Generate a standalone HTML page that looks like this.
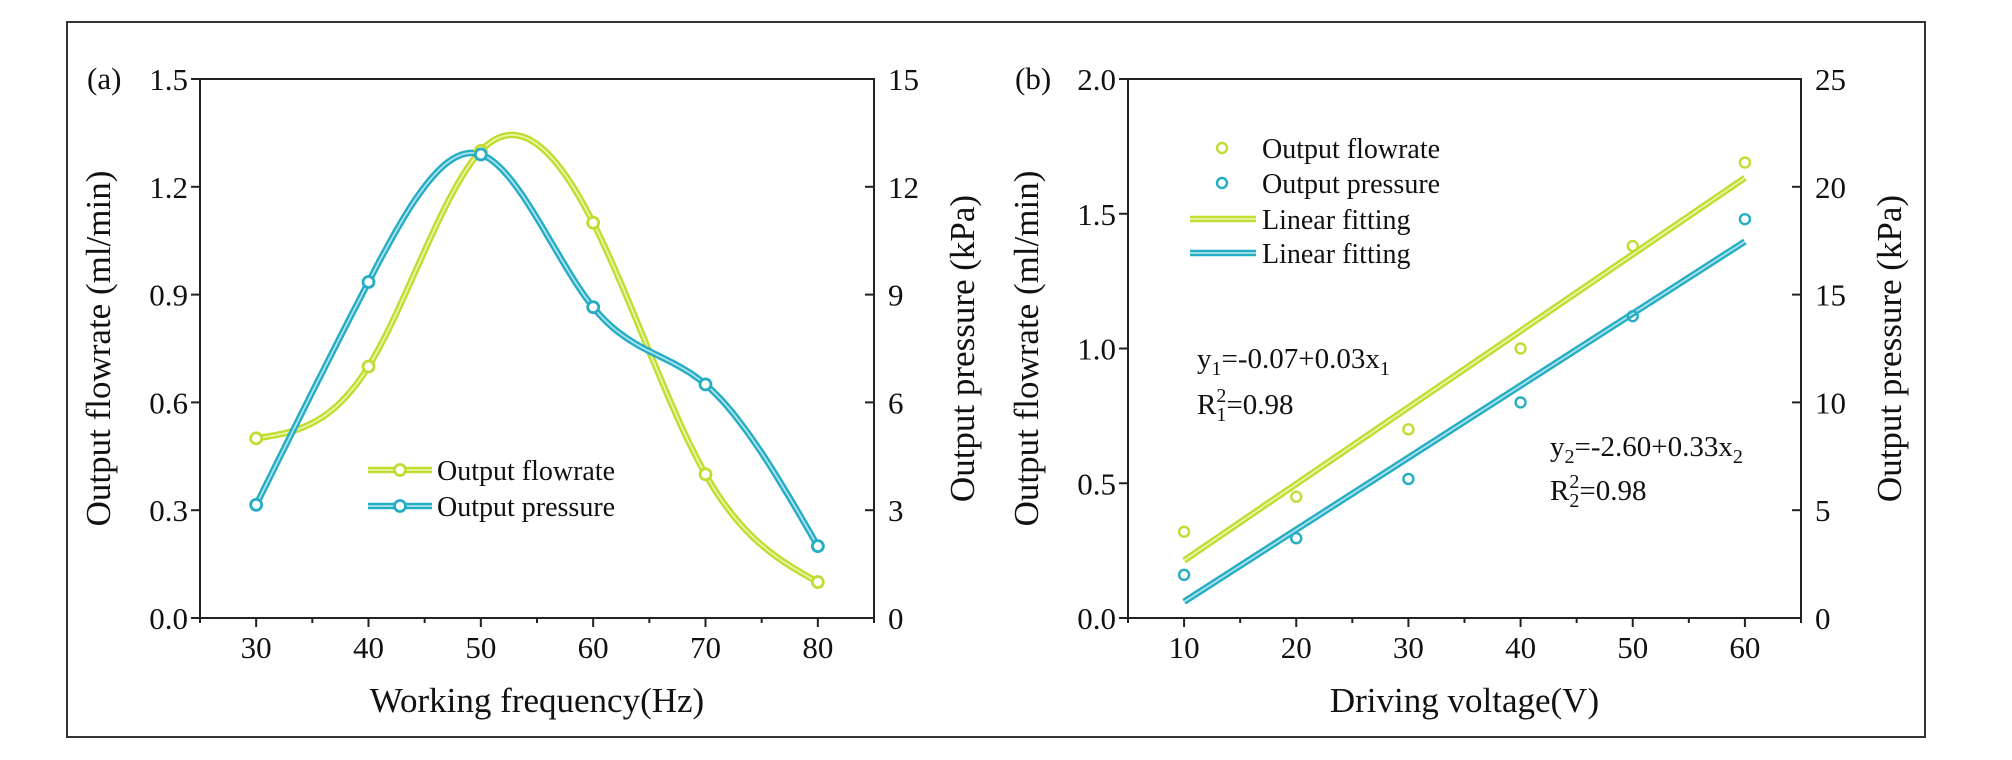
<!DOCTYPE html>
<html><head><meta charset="utf-8">
<style>
html,body{margin:0;padding:0;background:#fff;}
svg{display:block;font-family:"Liberation Serif","Times New Roman",serif;}
</style></head>
<body>
<svg id="chart" width="2012" height="760" viewBox="0 0 2012 760">
<rect x="67" y="22" width="1858" height="715" fill="none" stroke="#333" stroke-width="2"/>
<g id="pa"></g>
<g id="pb"></g>
</svg>
<script>
// Panel (a) data
const freqCategories = [30, 40, 50, 60, 70, 80];
const freqFlowrate = [0.5, 0.7, 1.3, 1.1, 0.4, 0.1];
const freqPressure = [3.15, 9.35, 12.9, 8.65, 6.5, 2.0];
const aXTicks = [30, 40, 50, 60, 70, 80];
const aYLeftTicks = ["0.0", "0.3", "0.6", "0.9", "1.2", "1.5"];
const aYRightTicks = ["0", "3", "6", "9", "12", "15"];
// Panel (b) data
const voltCategories = [10, 20, 30, 40, 50, 60];
const voltFlowrate = [0.32, 0.45, 0.70, 1.00, 1.38, 1.69];
const voltPressure = [2.0, 3.7, 6.45, 10.0, 14.0, 18.5];
const bXTicks = [10, 20, 30, 40, 50, 60];
const bYLeftTicks = ["0.0", "0.5", "1.0", "1.5", "2.0"];
const bYRightTicks = ["0", "5", "10", "15", "20", "25"];

const NS = "http://www.w3.org/2000/svg";
const C_FLOW = "#c2dc32", C_FLOW_IN = "#eaf4a8";
const C_PRES = "#25adc4", C_PRES_IN = "#aee3ec";
function el(tag, attrs, parent) {
  const e = document.createElementNS(NS, tag);
  for (const k in attrs) e.setAttribute(k, attrs[k]);
  parent.appendChild(e);
  return e;
}
function txt(s, x, y, size, anchor, parent, name) {
  const t = el("text", {x: x, y: y, "font-size": size, "text-anchor": anchor, fill: "#111"}, parent);
  t.textContent = s;
  
  
  return t;
}
function spline(xs, ys) {
  const n = xs.length, h = [], a = [], l = [1], mu = [0], z = [0], c = new Array(n).fill(0), b = [], d = [];
  for (let i = 0; i < n - 1; i++) h.push(xs[i+1] - xs[i]);
  for (let i = 1; i < n - 1; i++) a[i] = 3/h[i]*(ys[i+1]-ys[i]) - 3/h[i-1]*(ys[i]-ys[i-1]);
  for (let i = 1; i < n - 1; i++) {
    l[i] = 2*(xs[i+1]-xs[i-1]) - h[i-1]*mu[i-1];
    mu[i] = h[i]/l[i];
    z[i] = (a[i] - h[i-1]*z[i-1])/l[i];
  }
  for (let j = n - 2; j >= 0; j--) {
    c[j] = (j < n-1 && j > 0 ? z[j] - mu[j]*c[j+1] : 0);
    b[j] = (ys[j+1]-ys[j])/h[j] - h[j]*(c[j+1] + 2*c[j])/3;
    d[j] = (c[j+1]-c[j])/(3*h[j]);
  }
  return function(x) {
    let i = 0;
    while (i < n - 2 && x > xs[i+1]) i++;
    const dx = x - xs[i];
    return ys[i] + b[i]*dx + c[i]*dx*dx + d[i]*dx*dx*dx;
  };
}
function dbl(d, outer, inner, parent, name) {
  const g = el("g", {}, parent);
  
  
  el("path", {d: d, fill: "none", stroke: outer, "stroke-width": 6.5, "stroke-linejoin": "round"}, g);
  el("path", {d: d, fill: "none", stroke: inner, "stroke-width": 1.8}, g);
  return g;
}
function marker(x, y, color, parent, name) {
  const c = el("circle", {cx: x, cy: y, r: 5.5, fill: "#fff", stroke: color, "stroke-width": 2.8}, parent);
  
  
}
function axes(g, L, R, T, B, xmin, xmax, xticks, yl, yr, xTitle, ylTitle, yrTitle, tag) {
  el("rect", {x: L, y: T, width: R-L, height: B-T, fill: "none", stroke: "#222", "stroke-width": 2}, g);
  const sx = v => L + (v - xmin)/(xmax - xmin)*(R - L);
  for (let v = xmin; v <= xmax + 0.01; v += 5) {
    const major = xticks.indexOf(v) >= 0;
    el("line", {x1: sx(v), x2: sx(v), y1: B, y2: B + (major ? 9 : 5), stroke: "#222", "stroke-width": 2}, g);
  }
  xticks.forEach(v => txt(String(v), sx(v), B + 40, 31, "middle", g, "x-tick-label"));
  yl.forEach((s, i) => {
    const y = B - i/(yl.length-1)*(B-T);
    el("line", {x1: L - 9, x2: L, y1: y, y2: y, stroke: "#222", "stroke-width": 2}, g);
    txt(s, L - 12, y + 11, 31, "end", g, "y-left-tick-label");
  });
  yr.forEach((s, i) => {
    const y = B - i/(yr.length-1)*(B-T);
    el("line", {x1: R, x2: R - 9, y1: y, y2: y, stroke: "#222", "stroke-width": 2}, g);
    txt(s, R + 14, y + 11, 31, "start", g, "y-right-tick-label");
  });
  txt(xTitle, (L+R)/2, 712, 35, "middle", g, "x-axis-title");
  const t1 = txt(ylTitle, 0, 0, 35, "middle", g, "y-left-axis-title");
  t1.setAttribute("transform", `translate(${L-90},${(T+B)/2}) rotate(-90)`);
  const t2 = txt(yrTitle, 0, 0, 35, "middle", g, "y-right-axis-title");
  t2.setAttribute("transform", `translate(${R+100},${(T+B)/2}) rotate(-90)`);
  txt(tag, L - 113, T + 10, 31, "start", g, "panel-label");
  return sx;
}
const T = 79, B = 618;
// Panel a
(function(){
  const g = document.getElementById("pa");
  const L = 200, R = 874;
  const sx = axes(g, L, R, T, B, 25, 85, aXTicks, aYLeftTicks, aYRightTicks,
    "Working frequency(Hz)", "Output flowrate (ml/min)", "Output pressure (kPa)", "(a)");
  const syL = v => B - v/1.5*(B-T), syR = v => B - v/15*(B-T);
  const f1 = spline(freqCategories, freqFlowrate), f2 = spline(freqCategories, freqPressure);
  let d1 = "", d2 = "";
  const x0 = freqCategories[0], x1 = freqCategories[freqCategories.length-1];
  for (let x = x0; x <= x1 + 1e-6; x += 0.25) {
    d1 += (d1 ? "L" : "M") + sx(x).toFixed(1) + "," + syL(f1(x)).toFixed(1);
    d2 += (d2 ? "L" : "M") + sx(x).toFixed(1) + "," + syR(f2(x)).toFixed(1);
  }
  dbl(d1, C_FLOW, C_FLOW_IN, g, "flowrate-curve");
  dbl(d2, C_PRES, C_PRES_IN, g, "pressure-curve");
  freqCategories.forEach((x, i) => marker(sx(x), syL(freqFlowrate[i]), C_FLOW, g, "flowrate-point"));
  freqCategories.forEach((x, i) => marker(sx(x), syR(freqPressure[i]), C_PRES, g, "pressure-point"));
  const lg = el("g", {}, g);
  
  
  dbl("M368,470L432,470", C_FLOW, C_FLOW_IN, lg, "legend-flowrate-line");
  marker(400, 470, C_FLOW, lg, "legend-flowrate-marker");
  txt("Output flowrate", 437, 480, 28, "start", lg, "legend-flowrate-text");
  dbl("M368,506L432,506", C_PRES, C_PRES_IN, lg, "legend-pressure-line");
  marker(400, 506, C_PRES, lg, "legend-pressure-marker");
  txt("Output pressure", 437, 516, 28, "start", lg, "legend-pressure-text");
})();
// Panel b
(function(){
  const g = document.getElementById("pb");
  const L = 1128, R = 1801;
  const sx = axes(g, L, R, T, B, 5, 65, bXTicks, bYLeftTicks, bYRightTicks,
    "Driving voltage(V)", "Output flowrate (ml/min)", "Output pressure (kPa)", "(b)");
  const syL = v => B - v/2.0*(B-T), syR = v => B - v/25*(B-T);
  function fit(xs, ys) {
    const n = xs.length, mx = xs.reduce((a,b)=>a+b)/n, my = ys.reduce((a,b)=>a+b)/n;
    let sxy = 0, sxx = 0;
    xs.forEach((x,i)=>{ sxy += (x-mx)*(ys[i]-my); sxx += (x-mx)*(x-mx); });
    const k = sxy/sxx; return [my - k*mx, k];
  }
  const xa = voltCategories[0], xb = voltCategories[voltCategories.length-1];
  const [a1, k1] = fit(voltCategories, voltFlowrate), [a2, k2] = fit(voltCategories, voltPressure);
  dbl(`M${sx(xa)},${syL(a1+k1*xa)}L${sx(xb)},${syL(a1+k1*xb)}`, C_FLOW, C_FLOW_IN, g, "flowrate-fit-line");
  dbl(`M${sx(xa)},${syR(a2+k2*xa)}L${sx(xb)},${syR(a2+k2*xb)}`, C_PRES, C_PRES_IN, g, "pressure-fit-line");
  voltCategories.forEach((x, i) => {
    const c = el("circle", {cx: sx(x), cy: syL(voltFlowrate[i]), r: 5, fill: "none", stroke: C_FLOW, "stroke-width": 2.4}, g);
    
    
  });
  voltCategories.forEach((x, i) => {
    const c = el("circle", {cx: sx(x), cy: syR(voltPressure[i]), r: 5, fill: "none", stroke: C_PRES, "stroke-width": 2.4}, g);
    
    
  });
  const lg = el("g", {}, g);
  
  
  el("circle", {cx: 1222, cy: 148, r: 5, fill: "none", stroke: C_FLOW, "stroke-width": 2.4}, lg);
  txt("Output flowrate", 1262, 158, 28, "start", lg, "legend-flowrate-text");
  el("circle", {cx: 1222, cy: 183, r: 5, fill: "none", stroke: C_PRES, "stroke-width": 2.4}, lg);
  txt("Output pressure", 1262, 193, 28, "start", lg, "legend-pressure-text");
  dbl("M1190,219L1256,219", C_FLOW, C_FLOW_IN, lg, "legend-flowrate-fit");
  txt("Linear fitting", 1262, 229, 28, "start", lg, "legend-fit1-text");
  dbl("M1190,253L1256,253", C_PRES, C_PRES_IN, lg, "legend-pressure-fit");
  txt("Linear fitting", 1262, 263, 28, "start", lg, "legend-fit2-text");
  function eq(x, y, parts, name) {
    const t = el("text", {x: x, y: y, "font-size": 29, fill: "#111"}, g);
    
    
    parts.forEach(p => {
      const s = el("tspan", {}, t);
      if (p[1] === "sub") { s.setAttribute("font-size", 20); s.setAttribute("dy", 7); }
      if (p[1] === "back") { s.setAttribute("dy", -7); }
      if (p[1] === "sup") { s.setAttribute("font-size", 20); s.setAttribute("dy", -12); }
      if (p[1] === "subsup") { s.setAttribute("font-size", 20); s.setAttribute("dy", 19); s.setAttribute("dx", -10); }
      if (p[1] === "back2") { s.setAttribute("dy", -7); }
      s.textContent = p[0];
    });
  }
  eq(1197, 368, [["y"],["1","sub"],["=-0.07+0.03x","back"],["1","sub"]], "equation-1");
  eq(1197, 414, [["R"],["2","sup"],["1","subsup"],["=0.98","back2"]], "r-squared-1");
  eq(1550, 456, [["y"],["2","sub"],["=-2.60+0.33x","back"],["2","sub"]], "equation-2");
  eq(1550, 500, [["R"],["2","sup"],["2","subsup"],["=0.98","back2"]], "r-squared-2");
})();
</script>
</body></html>
